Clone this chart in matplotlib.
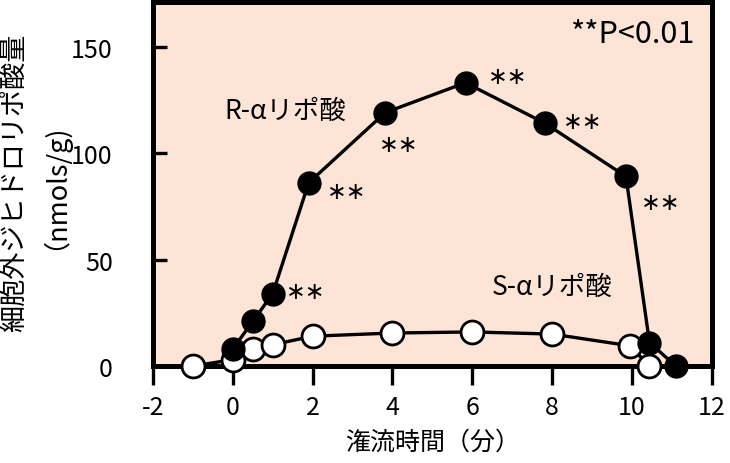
import numpy as np
import matplotlib.pyplot as plt

plt.rcParams['font.family'] = ['Noto Sans CJK JP', 'DejaVu Sans']
plt.rcParams['axes.unicode_minus'] = False

# 潅流時間 (分)
time_r = [0, 0.5, 1, 1.9, 3.82, 5.83, 7.82, 9.85, 10.44, 11.1]
val_r = [8, 21, 34, 86, 119, 133, 114, 89, 11, 0]
time_s = [-1, 0, 0.5, 1, 2, 4, 6, 8, 9.95, 10.44]
val_s = [0, 3, 8, 10, 14, 15.5, 16, 15, 9.5, 0]

# ** の位置
star_x = [1.83, 2.86, 4.15, 6.9, 8.77, 10.73]
star_y = [35, 82, 104, 136, 115, 77]

fig = plt.figure(figsize=(7.3, 4.64), dpi=100)
ax = fig.add_axes([0.2096, 0.209, 0.7654, 0.785])
ax.set_facecolor('#FCE4D6')

ax.plot(time_s, val_s, 'k-', lw=2.4, marker='o', ms=16.5, mfc='white', mec='black', mew=2, clip_on=False, zorder=3)
ax.plot(time_r, val_r, 'k-', lw=2.4, marker='o', ms=16.5, mfc='black', mec='black', clip_on=False, zorder=4)

for x, y in zip(star_x, star_y):
    ax.text(x, y, '∗∗', fontsize=17, ha='center', va='center', family='DejaVu Sans')

ax.text(1.3, 120, 'R-αリポ酸', fontsize=19, ha='center', va='center')
ax.text(8.0, 37.6, 'S-αリポ酸', fontsize=19, ha='center', va='center')
ax.text(11.56, 156, '**P<0.01', fontsize=22, ha='right', va='center')

ax.set_xlim(-2, 12)
ax.set_ylim(0, 171)
ax.set_xticks(np.arange(-2, 13, 2))
ax.set_yticks([0, 50, 100, 150])
ax.tick_params(axis='x', direction='out', length=14, width=2.4, labelsize=18, pad=6)
ax.tick_params(axis='y', direction='in', length=10, width=2.4, labelsize=18, pad=29)
for s in ax.spines.values():
    s.set_linewidth(3.6)

ax.set_xlabel('潅流時間（分）', fontsize=18, labelpad=6)
fig.text(15 / 730, 1 - 183 / 464, '細胞外ジヒドロリポ酸量', rotation=90, fontsize=19.5, ha='center', va='center')
fig.text(41 / 730, 1 - 180 / 464, '（nmols/g)', rotation=90, fontsize=19.5, ha='center', va='center')

plt.savefig('out.png', dpi=100)
